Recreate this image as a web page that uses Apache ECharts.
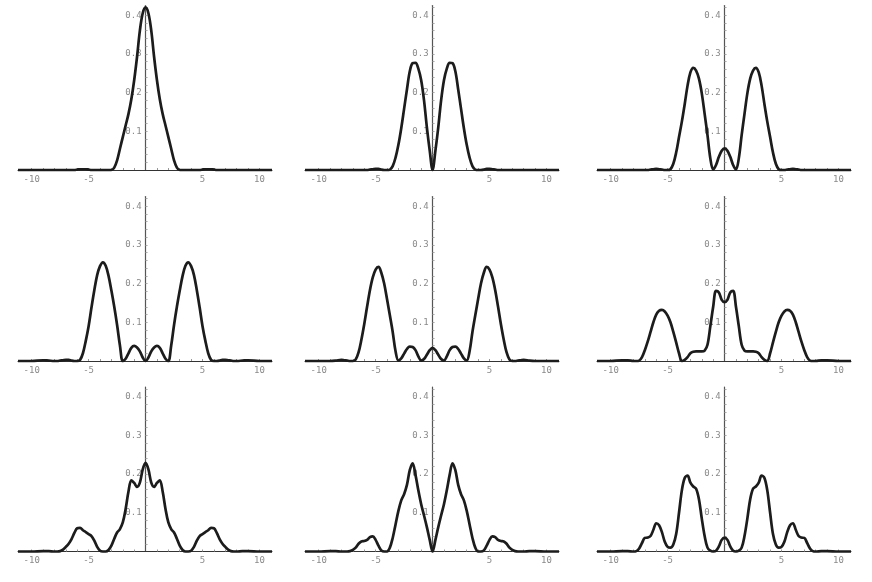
<!DOCTYPE html>
<html>
<head>
<meta charset="utf-8">
<script src="https://cdn.jsdelivr.net/npm/echarts@6/dist/echarts.min.js"></script>
<style>html,body{margin:0;padding:0;background:#fff;}#c{width:872px;height:582px;}</style>
</head>
<body>
<div id="c"></div>
<script>
const xs = [-11.2,-10,-9,-8.5,-8,-7.75,-7.5,-7.25,-7,-6.75,-6.5,-6.25,-6,-5.75,-5.5,-5.25,-5,-4.75,-4.5,-4.25,-4,-3.75,-3.5,-3.25,-3,-2.75,-2.5,-2.25,-2,-1.75,-1.5,-1.25,-1,-0.75,-0.5,-0.25,
  0,
  0.25,0.5,0.75,1,1.25,1.5,1.75,2,2.25,2.5,2.75,3,3.25,3.5,3.75,4,4.25,4.5,4.75,5,5.25,5.5,5.75,6,6.25,6.5,6.75,7,7.25,7.5,7.75,8,8.5,9,10,11.1];

const p1 = [0,0,0,0,
  0,0,0,0,0,0,0,0, 0.001,0.002,0.002,0.002,0.001, 0,0,0,0,0,0,0,0, 0.006,0.025,0.055,0.085,0.115,0.145,0.183,0.232,0.292,0.36,0.405,
  0.42,
  0.405,0.36,0.292,0.232,0.183,0.145,0.115,0.085,0.055,0.025,0.006, 0,0,0,0,0,0,0,0, 0.001,0.002,0.002,0.002,0.001, 0,0,0,0,0,0,0,0,
  0,0,0,0];
const p2 = [0,0,0,0,
  0,0,0,0,0,0,0,0,0,0, 0.001,0.002,0.003,0.003,0.001,0,0, 0.001,0.01,0.032,0.065,0.108,0.158,0.208,0.255,0.276,0.277,0.262,0.232,0.18,0.11,0.05,
  0,
  0.05,0.11,0.18,0.232,0.262,0.277,0.276,0.255,0.208,0.158,0.108,0.065,0.032,0.01,0.001, 0,0,0.001,0.003,0.003,0.002,0.001, 0,0,0,0,0,0,0,0,0,0,
  0,0,0,0];
const p3 = [0,0,0,0,
  0,0,0,0,0,0, 0.001,0.002,0.003,0.002,0.001, 0,0, 0.002,0.016,0.045,0.085,0.125,0.17,0.218,0.252,0.264,0.257,0.236,0.198,0.145,0.09,0.03,0.001,0.013,0.034,0.05,
  0.056,
  0.05,0.034,0.013,0.001,0.03,0.09,0.145,0.198,0.236,0.257,0.264,0.252,0.218,0.17,0.125,0.085,0.045,0.016,0.002, 0,0, 0.001,0.002,0.003,0.002,0.001, 0,0,0,0,0,0,
  0,0,0,0];
const p4 = [0,0,0.002,0.001,
  0,0, 0.001,0.002,0.003,0.003,0.001, 0,0, 0.003,0.02,0.052,0.09,0.138,0.183,0.222,0.245,0.255,0.246,0.22,0.182,0.14,0.093,0.04,0, 0.006,0.02,0.034,0.039,0.035,0.025,0.009,
  0,
  0.009,0.025,0.035,0.039,0.034,0.02,0.006, 0,0.04,0.093,0.14,0.182,0.22,0.246,0.255,0.245,0.222,0.183,0.138,0.09,0.052,0.02,0.003, 0,0, 0.001,0.003,0.003,0.002,0.001, 0,0,
  0.001,0.002,0,0];
const p5 = [0,0,0,0.001,
  0.003,0.002,0.001,0,0, 0.004,0.022,0.055,0.095,0.14,0.183,0.216,0.236,0.243,0.228,0.2,0.16,0.118,0.075,0.025, 0.001,0.007,0.019,0.031,0.037,0.036,0.028,0.012,0.001,0.005,0.016,0.028,
  0.034,
  0.028,0.016,0.005,0.001,0.012,0.028,0.036,0.037,0.031,0.019,0.007,0.001, 0.025,0.075,0.118,0.16,0.2,0.228,0.243,0.236,0.216,0.183,0.14,0.095,0.055,0.022,0.004, 0,0,0.001,0.002,0.003,
  0.001,0,0,0];
const p6 = [0,0,0.002,0.002,
  0,0,0.001,0.01,0.028,0.05,0.075,0.1,0.12,0.13,0.132,0.128,0.117,0.1,0.075,0.048,0.02,0, 0.003,0.01,0.02,0.024,0.025,0.025,0.025,0.027,0.042,0.09,0.14,0.181,0.177,0.158,
  0.152,
  0.158,0.177,0.181,0.14,0.09,0.042,0.027,0.025,0.025,0.025,0.024,0.02,0.01,0.003, 0,0.02,0.048,0.075,0.1,0.117,0.128,0.132,0.13,0.12,0.1,0.075,0.05,0.028,0.01,0.001,0,0,
  0.002,0.002,0,0];
const p7 = [0,0,0.001,0.001,
  0,0,0.001,0.005,0.012,0.02,0.032,0.048,0.06,0.061,0.055,0.05,0.045,0.04,0.028,0.012,0.002,0,0, 0.004,0.015,0.033,0.049,0.058,0.075,0.11,0.155,0.184,0.177,0.167,0.178,0.212,
  0.229,
  0.212,0.178,0.167,0.177,0.184,0.155,0.11,0.075,0.058,0.049,0.033,0.015,0.004, 0,0,0.002,0.012,0.028,0.04,0.045,0.05,0.055,0.061,0.06,0.048,0.032,0.02,0.012,0.005,0.001,0,0,
  0.001,0.001,0,0];
const p8 = [0,0,0.001,0.001,
  0,0,0,0.001,0.004,0.01,0.02,0.026,0.027,0.03,0.037,0.039,0.03,0.015,0.003,0,0, 0.01,0.035,0.07,0.105,0.132,0.148,0.172,0.21,0.228,0.198,0.158,0.122,0.093,0.063,0.03,
  0,
  0.03,0.063,0.093,0.122,0.158,0.198,0.228,0.21,0.172,0.148,0.132,0.105,0.07,0.035,0.01, 0,0,0.003,0.015,0.03,0.039,0.037,0.03,0.027,0.026,0.02,0.01,0.004,0.001,0,0,0,
  0.001,0.001,0,0];
const p9 = [0,0,0.001,0.001,
  0,0.001,0.008,0.022,0.035,0.036,0.04,0.056,0.073,0.068,0.05,0.025,0.012,0.01,0.018,0.045,0.1, 0.158,0.19,0.196,0.178,0.168,0.162,0.135,0.085,0.04,0.01,0.002,0,0.002,0.013,0.03,
  0.036,
  0.03,0.013,0.002,0,0.002,0.01,0.04,0.085,0.135,0.162,0.168,0.178,0.196,0.19,0.158,0.1,0.045,0.018,0.01,0.012,0.025,0.05,0.068,0.073,0.056,0.04,0.036,0.035,0.022,0.008,0.001,0,
  0.001,0.001,0,0];

const panels = [p1, p2, p3, p4, p5, p6, p7, p8, p9];
const xTickLabels = [-10, -5, 5, 10];
const xTickMarks = [-10,-9,-8,-7,-6,-5,-4,-3,-2,-1,1,2,3,4,5,6,7,8,9,10];
const yTickLabels = [0.1, 0.2, 0.3, 0.4];
const yTickMarks = [0.02,0.04,0.06,0.08,0.1,0.12,0.14,0.16,0.18,0.2,0.22,0.24,0.26,0.28,0.3,0.32,0.34,0.36,0.38,0.4,0.42];

const colLefts = [18, 305, 597];
const rowTops = [5.5, 196.5, 387];
const gridW = 254, gridH = 164.5;
const X_MIN = -11.2, X_MAX = 11.1, Y_MAX = 0.425;
// y axis sits at x = 0 inside each panel
const yAxisOffset = -gridW * (0 - X_MIN) / (X_MAX - X_MIN);

const labelStyle = { color: '#8a8a8a', fontSize: 9, fontFamily: 'DejaVu Sans Mono' };

const grids = [], xAxes = [], yAxes = [], series = [];
panels.forEach((vals, i) => {
  const r = Math.floor(i / 3), c = i % 3;
  grids.push({ left: colLefts[c], top: rowTops[r], width: gridW, height: gridH });
  xAxes.push({
    type: 'value', gridIndex: i, min: X_MIN, max: X_MAX,
    axisLine: { show: true, onZero: false, lineStyle: { color: '#333', width: 1 } },
    axisTick: { show: true, inside: true, length: 2, customValues: xTickMarks, lineStyle: { color: '#999' } },
    axisLabel: Object.assign({ show: true, margin: 5, customValues: xTickLabels, formatter: v => String(v) }, labelStyle),
    splitLine: { show: false }
  });
  yAxes.push({
    type: 'value', gridIndex: i, min: 0, max: Y_MAX, position: 'left', offset: yAxisOffset,
    axisLine: { show: true, onZero: false, lineStyle: { color: '#555', width: 1.2 } },
    axisTick: { show: true, inside: true, length: 2, customValues: yTickMarks, lineStyle: { color: '#aaa' } },
    axisLabel: Object.assign({ show: true, margin: 4, customValues: yTickLabels, formatter: v => v.toFixed(1) }, labelStyle),
    splitLine: { show: false }
  });
  series.push({
    type: 'line', xAxisIndex: i, yAxisIndex: i,
    data: xs.map((x, k) => [x, vals[k]]),
    showSymbol: false, smooth: 0.35, clip: false,
    lineStyle: { color: '#1c1c1c', width: 2.7 },
    z: 5
  });
});

const chart = echarts.init(document.getElementById('c'), null, { renderer: 'canvas' });
chart.setOption({
  backgroundColor: '#ffffff',
  animation: false,
  grid: grids, xAxis: xAxes, yAxis: yAxes, series: series
});
</script>
</body>
</html>
